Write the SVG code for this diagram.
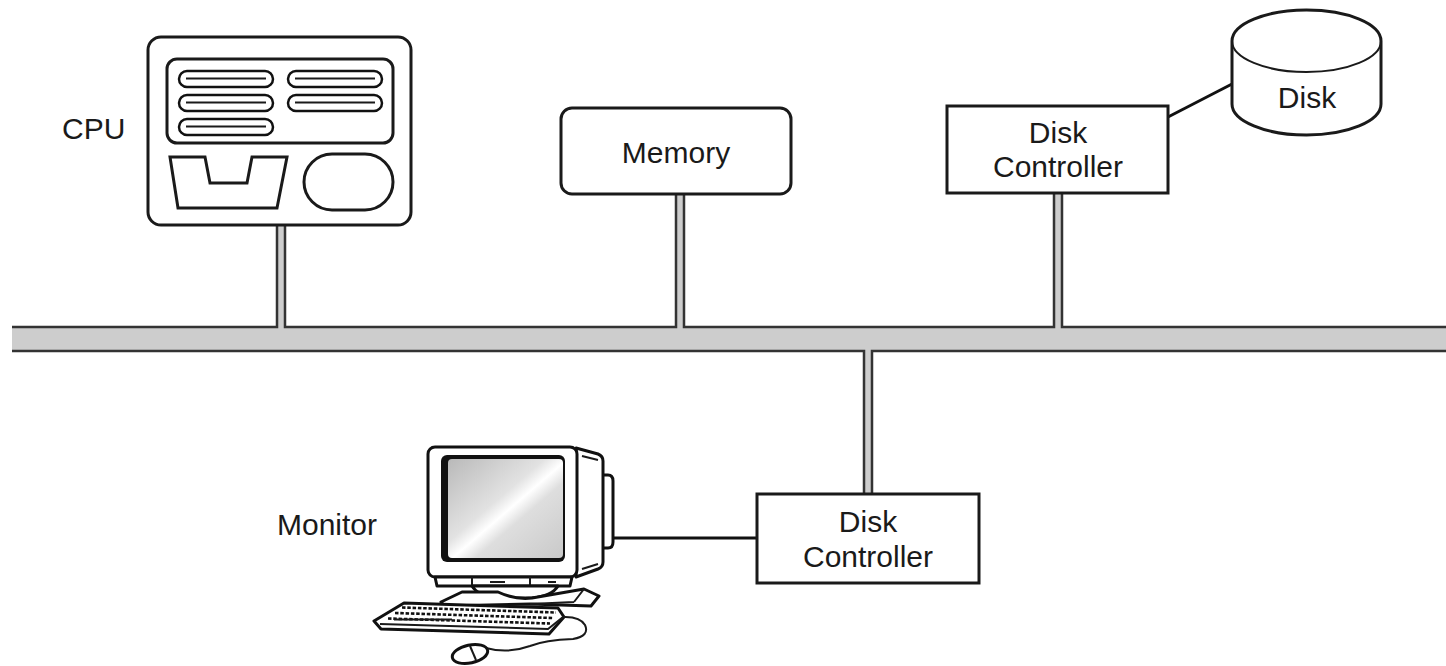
<svg xmlns="http://www.w3.org/2000/svg" width="1446" height="666" viewBox="0 0 1446 666">
<defs>
<style>
.lbl{font-family:"Liberation Sans",Arial,Helvetica,sans-serif;font-size:30px;fill:#1a1a1a}
.box{fill:#fff;stroke:#1a1a1a;stroke-width:3}
.thin{fill:none;stroke:#1a1a1a;stroke-width:2}
.blk{fill:none;stroke:#111;stroke-width:3;stroke-linejoin:round;stroke-linecap:round}
.bus{fill:#cdcdcd}
.edge{fill:none;stroke:#333;stroke-width:2.5}
.pill{fill:#fff;stroke:#111;stroke-width:2.5}
</style>
<linearGradient id="scr" x1="0" y1="0" x2="1" y2="1">
<stop offset="0" stop-color="#b9b9b9"/>
<stop offset="0.42" stop-color="#e2e2e2"/>
<stop offset="0.52" stop-color="#ffffff"/>
<stop offset="0.62" stop-color="#dedede"/>
<stop offset="1" stop-color="#c9c9c9"/>
</linearGradient>
</defs>

<g id="connectors">
<rect class="bus" x="12" y="327" width="1434" height="24"/>
<rect class="bus" x="277" y="225" width="8" height="103"/>
<rect class="bus" x="676" y="194" width="8" height="134"/>
<rect class="bus" x="1054" y="193" width="8" height="135"/>
<rect class="bus" x="864" y="350" width="8" height="144"/>
<path class="edge" d="M12,327H277V225M285,225V327H676V194M684,194V327H1054V193M1062,193V327H1446"/>
<path class="edge" d="M12,351H864V494M872,494V351H1446"/>
<line x1="1168" y1="117" x2="1232" y2="84" stroke="#111" stroke-width="3"/>
<line x1="612" y1="538" x2="757" y2="538" stroke="#111" stroke-width="3"/>
</g>

<g id="cpu">
<rect class="box" x="148" y="37" width="263" height="188" rx="13"/>
<rect class="box" x="167" y="59" width="226" height="84" rx="10"/>
<rect class="pill" x="179" y="71" width="94" height="16" rx="8"/>
<rect class="pill" x="288" y="71" width="94" height="16" rx="8"/>
<rect class="pill" x="179" y="95" width="94" height="16" rx="8"/>
<rect class="pill" x="288" y="95" width="94" height="16" rx="8"/>
<rect class="pill" x="179" y="119" width="94" height="16" rx="8"/>
<path class="thin" d="M186,78.5H266M295,78.5H375M186,102.5H266M295,102.5H375M186,126.5H266"/>
<polygon class="box" points="170,157 205,157 210,183 247,183 252,157 287,157 277,208 178,208" stroke-linejoin="miter"/>
<rect class="box" x="304" y="154" width="89" height="56" rx="28"/>
<text class="lbl" x="62" y="139">CPU</text>
</g>

<g id="memory">
<rect class="box" x="561" y="108" width="230" height="86" rx="11"/>
<text class="lbl" x="676" y="163" text-anchor="middle">Memory</text>
</g>

<g id="disk-controller-top">
<rect class="box" x="947" y="106" width="221" height="87"/>
<text class="lbl" x="1058" y="143" text-anchor="middle">Disk</text>
<text class="lbl" x="1058" y="177" text-anchor="middle">Controller</text>
</g>

<g id="disk">
<path class="box" d="M1232,41V104A74.5,31 0 0 0 1381,104V41A74.5,31 0 0 0 1232,41Z"/>
<path class="thin" d="M1232,41A74.5,31 0 0 0 1381,41" stroke-width="2.5"/>
<text class="lbl" x="1307" y="108" text-anchor="middle">Disk</text>
</g>

<g id="disk-controller-bottom">
<rect class="box" x="757" y="494" width="222" height="89"/>
<text class="lbl" x="868" y="532" text-anchor="middle">Disk</text>
<text class="lbl" x="868" y="567" text-anchor="middle">Controller</text>
</g>

<g id="monitor">
<text class="lbl" x="277" y="535">Monitor</text>
<path class="blk" style="fill:#fff" d="M601,475H608Q613,475 613,481V542Q613,548 608,548H601Z"/>
<path class="blk" style="fill:#fff" d="M576,448L598,454Q603,456 603,461V562Q603,567 598,569L576,577Z"/>
<path class="thin" d="M582,456L598,460M582,569L598,564" stroke-width="1.5"/>
<rect class="blk" style="fill:#fff" x="428" y="447" width="149" height="130" rx="7"/>
<rect x="441" y="455" width="124" height="107" rx="6" fill="#111"/>
<rect x="448" y="459" width="115" height="99" rx="4" fill="url(#scr)"/>
<path class="blk" style="fill:#fff" d="M435,577H572L570,586H437Z"/>
<path class="thin" d="M472,577V586M530,577V586M490,582H505M548,582H556" stroke-width="1.5"/>
<path class="blk" style="fill:#fff" d="M472,586Q478,596 498,598H532Q552,596 558,586Z"/>
<path class="blk" style="fill:#fff" d="M441,602L462,592H498Q515,600 532,598L584,589L599,596L591,606L530,604L444,606Z"/>
<path class="thin" d="M584,589L574,602M530,604L574,602" stroke-width="2"/>
<path class="blk" style="fill:#fff" stroke-width="3.5" d="M404,603L558,608L564,617L549,634L381,629L374,621Z"/>
<path class="thin" d="M380,624L548,629L563,617" stroke-width="2.2"/>
<g stroke="#111" stroke-width="2.6" fill="none" stroke-dasharray="3.5,1.8">
<path d="M402,607.5L556,612.5"/>
<path d="M395,613L553,618"/>
<path d="M388,618.5L550,623.5"/>
</g>
<path class="thin" d="M394,619.5H452" stroke-width="2.8"/>
<path class="thin" d="M562,617Q580,616 585,625Q590,636 573,639Q545,640 530,646Q508,654 486,648" stroke-width="2.2"/>
<ellipse class="blk" style="fill:#fff" cx="470" cy="654" rx="18" ry="9" transform="rotate(-12 470 654)"/>
<path class="thin" d="M470,646L476,660" stroke-width="1.8"/>
</g>
</svg>
